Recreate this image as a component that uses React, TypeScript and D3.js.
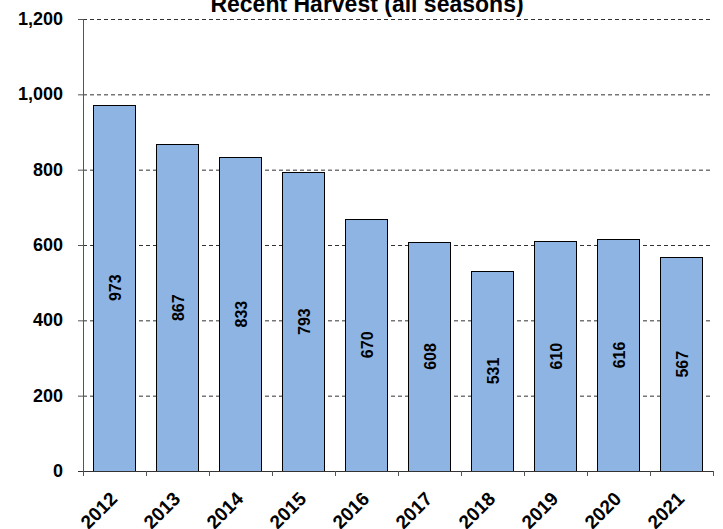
import React, { useEffect, useRef } from "react";
import * as d3 from "d3";

// Chart data
const years: string[] = ["2012", "2013", "2014", "2015", "2016", "2017", "2018", "2019", "2020", "2021"];
const harvest: number[] = [973, 867, 833, 793, 670, 608, 531, 610, 616, 567];
const yTicks: number[] = [0, 200, 400, 600, 800, 1000, 1200];

const App: React.FC = () => {
  const svgRef = useRef<SVGSVGElement>(null);

  useEffect(() => {
    const svg = d3.select(svgRef.current);
    svg.selectAll("*").remove();

    const W = 723;
    const H = 529;
    const margin = { top: 19, right: 10, bottom: 58, left: 83 };
    const width = W - margin.left - margin.right;
    const height = H - margin.top - margin.bottom;
    const font = "Arial, 'Liberation Sans', sans-serif";

    const x = d3.scaleBand<string>().domain(years).range([0, width]).paddingInner(0.33).paddingOuter(0.165);
    const xEdge = d3.scaleLinear().domain([0, years.length]).range([0, width]);
    const y = d3.scaleLinear().domain([0, 1200]).range([height, 0]);

    // Title (partly above the top edge, as in the original)
    svg.append("text")
      .attr("x", 367)
      .attr("y", 12)
      .attr("text-anchor", "middle")
      .attr("font-family", font)
      .attr("font-weight", "bold")
      .attr("font-size", 23)
      .text("Recent Harvest (all seasons)");

    const g = svg.append("g").attr("transform", `translate(${margin.left},${margin.top})`);

    // Dashed gridlines
    g.selectAll(".grid")
      .data(yTicks.filter((d) => d > 0))
      .enter()
      .append("line")
      .attr("x1", 0)
      .attr("x2", width)
      .attr("y1", (d) => y(d) + 0.5)
      .attr("y2", (d) => y(d) + 0.5)
      .attr("stroke", "#333")
      .attr("stroke-width", 1)
      .attr("stroke-dasharray", "4,3");

    // Bars
    g.selectAll(".bar")
      .data(harvest)
      .enter()
      .append("rect")
      .attr("x", (d, i) => Math.round(x(years[i])!) + 0.5)
      .attr("y", (d) => Math.round(y(d)) + 0.5)
      .attr("width", Math.round(x.bandwidth()))
      .attr("height", (d) => Math.round(height - y(d)))
      .attr("fill", "#8EB4E3")
      .attr("stroke", "#000")
      .attr("stroke-width", 1);

    // Value labels, rotated inside bars
    g.selectAll(".val")
      .data(harvest)
      .enter()
      .append("text")
      .attr("transform", (d, i) => {
        const cx = x(years[i])! + x.bandwidth() / 2;
        const cy = (y(d) + height) / 2;
        return `translate(${cx + 6.5},${cy}) rotate(-90)`;
      })
      .attr("text-anchor", "middle")
      .attr("font-family", font)
      .attr("font-weight", "bold")
      .attr("font-size", 16)
      .text((d) => String(d));

    // Y axis
    g.append("line")
      .attr("x1", 0.5).attr("x2", 0.5)
      .attr("y1", 0).attr("y2", height)
      .attr("stroke", "#555");
    g.selectAll(".ytick")
      .data(yTicks)
      .enter()
      .append("line")
      .attr("x1", -5).attr("x2", 0)
      .attr("y1", (d) => y(d) + 0.5)
      .attr("y2", (d) => y(d) + 0.5)
      .attr("stroke", "#555");
    g.selectAll(".ylab")
      .data(yTicks)
      .enter()
      .append("text")
      .attr("x", -20)
      .attr("y", (d) => y(d) + 6)
      .attr("text-anchor", "end")
      .attr("font-family", font)
      .attr("font-weight", "bold")
      .attr("font-size", 18)
      .text((d) => d3.format(",")(d));

    // X axis
    g.append("line")
      .attr("x1", -5).attr("x2", width)
      .attr("y1", height + 0.5).attr("y2", height + 0.5)
      .attr("stroke", "#333");
    g.selectAll(".xtick")
      .data(d3.range(years.length + 1))
      .enter()
      .append("line")
      .attr("x1", (d) => xEdge(d) + 0.5)
      .attr("x2", (d) => xEdge(d) + 0.5)
      .attr("y1", height)
      .attr("y2", height + 5)
      .attr("stroke", "#555");
    g.selectAll(".xlab")
      .data(years)
      .enter()
      .append("text")
      .attr("transform", (d) => `translate(${x(d)! + x.bandwidth() / 2 + 4},${height + 29}) rotate(-45)`)
      .attr("text-anchor", "end")
      .attr("font-family", font)
      .attr("font-weight", "bold")
      .attr("font-size", 19)
      .text((d) => d);
  }, []);

  return (
    <svg
      ref={svgRef}
      width={723}
      height={529}
      style={{ position: "absolute", left: 0, top: 0, background: "#fff" }}
    ></svg>
  );
};

export default App;
